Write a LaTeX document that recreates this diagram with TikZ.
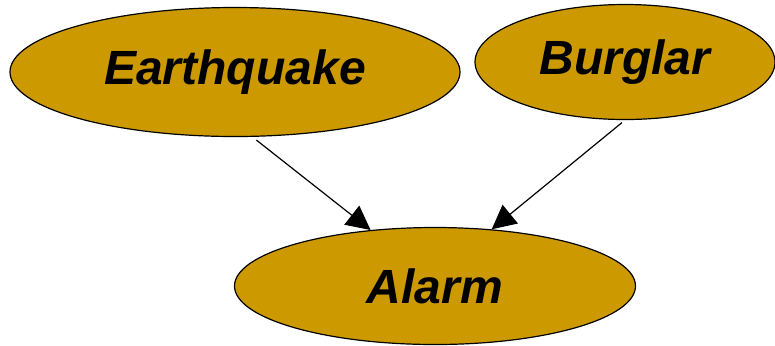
\documentclass[tikz,border=0pt]{standalone}
\usepackage{fontspec}
\setmainfont{Liberation Sans}
\usetikzlibrary{arrows.meta,shapes.geometric}
\definecolor{NodeGold}{HTML}{CC9900}

\begin{document}
\begin{tikzpicture}[x=0.5pt,y=-0.5pt,
    var/.style={ellipse,draw=black,line width=0.6pt,fill=NodeGold,inner sep=0pt,font=\fontsize{24}{28}\selectfont\bfseries\itshape},
    arr/.style={-{Triangle[length=12pt,width=12pt]},line width=0.6pt,black}
  ]
    \useasboundingbox (0,0) rectangle (775,345);
    \node[var,minimum width=225pt,minimum height=64.5pt] (quake) at (235,72) {Earthquake};
    \node[var,minimum width=150pt,minimum height=57.5pt] (burglar) at (625,62) {Burglar};
    \node[var,minimum width=200.5pt,minimum height=58.5pt] (alarm) at (435,286) {Alarm};
    \draw[arr,shorten <=2.5pt] (quake.-75) -- (alarm.139);
    \draw[arr,shorten <=2pt] (burglar.south) -- (alarm.45);
  \end{tikzpicture}
\end{document}
